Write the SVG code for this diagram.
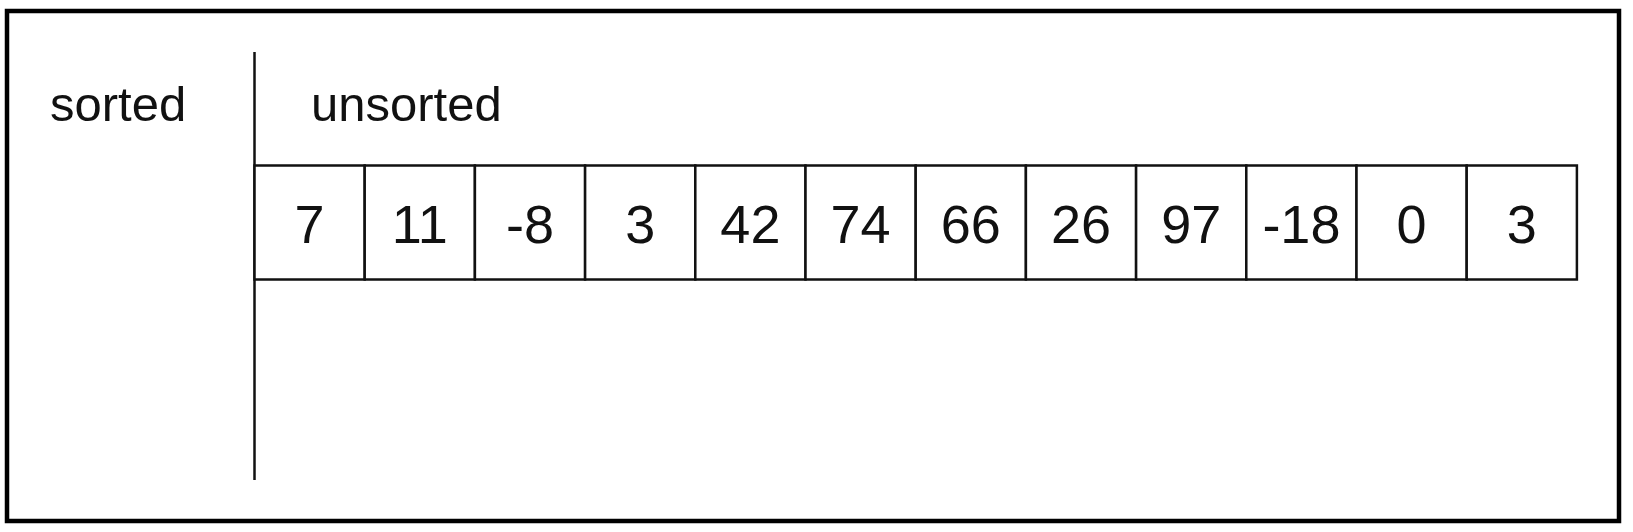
<svg xmlns="http://www.w3.org/2000/svg" width="1633" height="532" viewBox="0 0 1633 532">
<style>
.lbl{font-family:"Liberation Sans",Arial,sans-serif;font-size:49px;fill:#111}
.num{font-family:"Liberation Sans",Arial,sans-serif;font-size:54px;fill:#111;text-anchor:middle}
.cell{fill:#fff;stroke:#111;stroke-width:2.5}
.ln{stroke:#111;stroke-width:2.5;fill:none}
</style>
<rect x="0" y="0" width="1633" height="532" fill="#fff"/>
<rect x="7" y="11" width="1612" height="510" fill="#fff" stroke="#000" stroke-width="4.5"/>
<g id="labels">
<text class="lbl" x="50" y="121">sorted</text>
<text class="lbl" x="311" y="121">unsorted</text>
</g>
<g id="divider"><line class="ln" x1="254.5" y1="52" x2="254.5" y2="480"/></g>
<g id="array">
<g id="c0"><rect class="cell" x="254.5" y="165.5" width="110.2" height="114"/><text class="num" x="309.6" y="243">7</text></g>
<g id="c1"><rect class="cell" x="364.7" y="165.5" width="110.2" height="114"/><text class="num" x="419.8" y="243">11</text></g>
<g id="c2"><rect class="cell" x="474.9" y="165.5" width="110.2" height="114"/><text class="num" x="530" y="243">-8</text></g>
<g id="c3"><rect class="cell" x="585.1" y="165.5" width="110.2" height="114"/><text class="num" x="640.2" y="243">3</text></g>
<g id="c4"><rect class="cell" x="695.3" y="165.5" width="110.2" height="114"/><text class="num" x="750.4" y="243">42</text></g>
<g id="c5"><rect class="cell" x="805.5" y="165.5" width="110.2" height="114"/><text class="num" x="860.6" y="243">74</text></g>
<g id="c6"><rect class="cell" x="915.7" y="165.5" width="110.2" height="114"/><text class="num" x="970.8" y="243">66</text></g>
<g id="c7"><rect class="cell" x="1025.9" y="165.5" width="110.2" height="114"/><text class="num" x="1081" y="243">26</text></g>
<g id="c8"><rect class="cell" x="1136.1" y="165.5" width="110.2" height="114"/><text class="num" x="1191.2" y="243">97</text></g>
<g id="c9"><rect class="cell" x="1246.3" y="165.5" width="110.2" height="114"/><text class="num" x="1301.4" y="243">-18</text></g>
<g id="c10"><rect class="cell" x="1356.5" y="165.5" width="110.2" height="114"/><text class="num" x="1411.6" y="243">0</text></g>
<g id="c11"><rect class="cell" x="1466.7" y="165.5" width="110.2" height="114"/><text class="num" x="1521.8" y="243">3</text></g>
</g>
</svg>
